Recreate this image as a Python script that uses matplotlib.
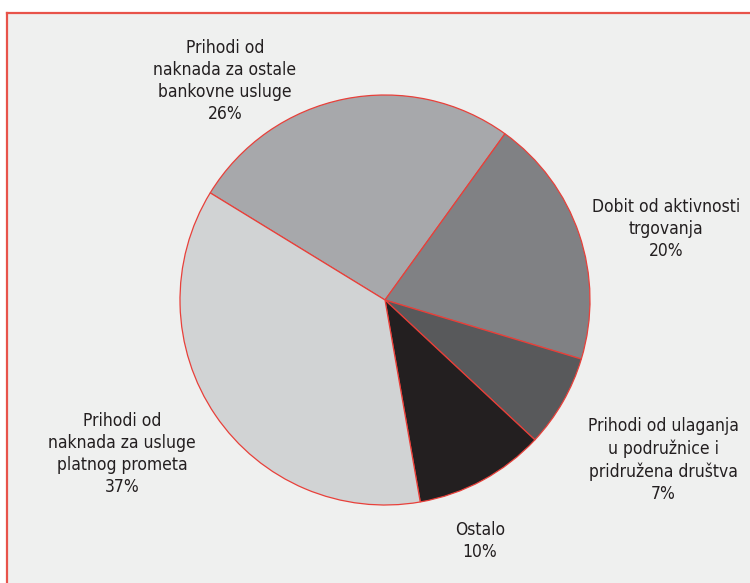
import matplotlib.pyplot as plt
from matplotlib.lines import Line2D
from matplotlib.patches import Rectangle

# udjeli prihoda (u smjeru kazaljke, pocevsi od 26%)
labels = ['Prihodi od\nnaknada za ostale\nbankovne usluge\n26%',
          'Dobit od aktivnosti\ntrgovanja\n20%',
          'Prihodi od ulaganja\nu podružnice i\npridružena društva\n7%',
          'Ostalo\n10%',
          'Prihodi od\nnaknada za usluge\nplatnog prometa\n37%']
# ocitano s kutova isjecaka (oznake su zaokruzene)
values = [26.2, 19.7, 7.3, 10.3, 36.5]
colors = ['#a7a8ab', '#808184', '#58595b', '#231f20', '#d1d3d4']

# pozicije tekstova (pikseli, y odozgo)
label_x = [225, 666, 663, 480, 122]
label_y = [81, 229, 460, 541, 454]

W, H = 750, 583
plt.rcParams['font.family'] = ['DejaVu Sans']
plt.rcParams['font.stretch'] = 'condensed'

fig = plt.figure(figsize=(7.5, 5.83), dpi=100)
ax = fig.add_axes([0, 0, 1, 1])

# pozadina i crveni okvir
ax.add_patch(Rectangle((7, -10), W, H - 13 + 10, facecolor='#eff0ef', edgecolor='none', zorder=0))
ax.add_line(Line2D([7, 7], [-10, H - 13], color='#e8534a', lw=1.6, zorder=1))
ax.add_line(Line2D([7, W + 10], [H - 13, H - 13], color='#e8534a', lw=1.6, zorder=1))

ax.pie(values, colors=colors, startangle=148.5, counterclock=False,
       center=(385, H - 300), radius=205, frame=True,
       wedgeprops=dict(edgecolor='#e8403a', linewidth=0.9))
ax.set_xlim(0, W)
ax.set_ylim(0, H)
ax.set_aspect('auto')
ax.axis('off')

for txt, x, y in zip(labels, label_x, label_y):
    ax.text(x, H - y, txt, ha='center', va='center', fontsize=12.5,
            fontstretch='condensed', color='#231f20', linespacing=1.3)

fig.savefig('out.png', dpi=100)
